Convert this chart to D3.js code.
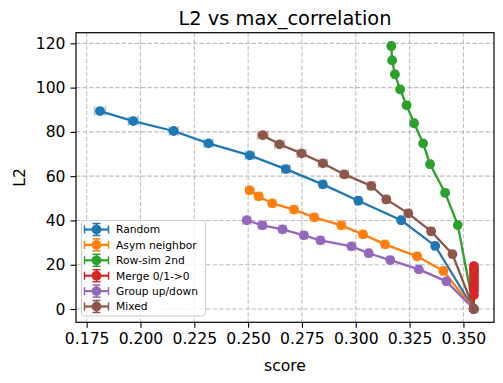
<!DOCTYPE html>
<html><head><meta charset="utf-8">
<script src="https://cdn.jsdelivr.net/npm/d3@7/dist/d3.min.js"></script>
<style>body{margin:0;background:#fff}svg{display:block;font-family:"DejaVu Sans",sans-serif}</style>
</head><body><svg id="c" width="503" height="383"></svg>
<script>
const seriesNames = ["Random","Asym neighbor","Row-sim 2nd","Merge 0/1->0","Group up/down","Mixed"];
const colors = ["#1f77b4","#ff7f0e","#2ca02c","#d62728","#9467bd","#8c564b"];
const randomX = [0.1812,0.1966,0.2154,0.2316,0.2508,0.2675,0.2847,0.3012,0.3211,0.3369,0.3548];
const randomY = [89.4,84.9,80.4,74.8,69.4,63.2,56.3,48.9,40.1,28.5,0];
const randomXerr = [0.0025,0.0022,0.002,0.002,0.002,0.0018,0.0015,0.0012,0.001,0.001,0];
const asymX = [0.2507,0.2549,0.2612,0.2713,0.2807,0.2933,0.3034,0.3136,0.3285,0.3407,0.3548];
const asymY = [53.6,50.9,47.7,44.9,41.4,37.8,33.7,29.2,23.8,17.2,0];
const asymXerr = [0.0018,0.0017,0.0016,0.0016,0.0015,0.0015,0.0014,0.0013,0.0012,0.001,0];
const rowX = [0.3165,0.3169,0.3182,0.3206,0.3236,0.3271,0.3313,0.3345,0.3415,0.3474,0.3548];
const rowY = [118.8,112.3,106.0,99.2,92.0,83.9,74.8,65.4,52.5,37.9,0];
const rowXerr = [0.0008,0.0008,0.0008,0.0008,0.0008,0.0008,0.0008,0.0008,0.0007,0.0006,0];
const mergeX = [0.3549,0.3549,0.3549,0.3549,0.3549,0.3549,0.3549,0.3549,0.3549,0.3549,0.3548];
const mergeY = [19.4,18.1,16.7,15.4,14.0,12.6,11.2,9.9,8.5,6.3,0];
const mergeXerr = [0.0003,0.0003,0.0003,0.0003,0.0003,0.0003,0.0003,0.0003,0.0003,0.0003,0];
const groupX = [0.2494,0.2566,0.2660,0.2759,0.2836,0.2980,0.3060,0.3160,0.3293,0.3421,0.3548];
const groupY = [40.1,37.8,36.0,33.3,31.0,28.3,25.2,22.1,17.9,12.5,0];
const groupXerr = [0.0018,0.0017,0.0016,0.0016,0.0015,0.0015,0.0014,0.0013,0.0012,0.001,0];
const mixedX = [0.2568,0.2646,0.2748,0.2847,0.2947,0.3072,0.3142,0.3244,0.3350,0.3449,0.3548];
const mixedY = [78.5,74.4,70.3,65.8,60.8,55.6,49.5,43.2,35.1,24.8,0];
const mixedXerr = [0.0024,0.0022,0.002,0.002,0.0018,0.0016,0.0015,0.0013,0.0012,0.001,0];
const xTicks = [0.175,0.200,0.225,0.250,0.275,0.300,0.325,0.350];
const yTicks = [0,20,40,60,80,100,120];

const allX = [randomX,asymX,rowX,mergeX,groupX,mixedX];
const allY = [randomY,asymY,rowY,mergeY,groupY,mixedY];
const allXerr = [randomXerr,asymXerr,rowXerr,mergeXerr,groupXerr,mixedXerr];

const L=76,R=494,T=32.7,B=322.3;
const x = d3.scaleLinear().domain([0.17005,0.36421]).range([L,R]);
const y = d3.scaleLinear().domain([-6.0,124.8]).range([B,T]);
const svg = d3.select("#c");

// grid
const g = svg.append("g");
g.selectAll(".gx").data(xTicks).enter().append("line")
 .attr("x1",d=>x(d)).attr("x2",d=>x(d)).attr("y1",T).attr("y2",B)
 .attr("stroke","#b0b0b0").attr("stroke-width",1.1).attr("stroke-dasharray","4.5,2").attr("opacity",0.8);
g.selectAll(".gy").data(yTicks).enter().append("line")
 .attr("y1",d=>y(d)).attr("y2",d=>y(d)).attr("x1",L).attr("x2",R)
 .attr("stroke","#b0b0b0").attr("stroke-width",1.1).attr("stroke-dasharray","4.5,2").attr("opacity",0.8);

// series
const cap = 4.7, rad = 4.9;
const line = d3.line().x(d=>x(d[0])).y(d=>y(d[1]));
allX.forEach((xs,i)=>{
  const pts = xs.map((v,j)=>[v,allY[i][j],allXerr[i][j]]);
  const c = colors[i];
  const sg = svg.append("g");
  const eb = sg.append("g").attr("stroke",c).attr("stroke-width",1.5).attr("opacity",0.45);
  pts.forEach(p=>{
    if(p[2]<=0) return;
    const x0=x(p[0]-p[2]), x1=x(p[0]+p[2]), yy=y(p[1]);
    eb.append("line").attr("x1",x0).attr("x2",x1).attr("y1",yy).attr("y2",yy);
    eb.append("line").attr("x1",x0).attr("x2",x0).attr("y1",yy-cap).attr("y2",yy+cap);
    eb.append("line").attr("x1",x1).attr("x2",x1).attr("y1",yy-cap).attr("y2",yy+cap);
  });
  sg.append("path").attr("d",line(pts)).attr("fill","none").attr("stroke",c).attr("stroke-width",2.3);
  sg.selectAll("circle").data(pts).enter().append("circle")
    .attr("cx",d=>x(d[0])).attr("cy",d=>y(d[1])).attr("r",rad).attr("fill",c);
});

// frame
svg.append("rect").attr("x",L).attr("y",T).attr("width",R-L).attr("height",B-T)
 .attr("fill","none").attr("stroke","#000").attr("stroke-width",1.2);

// axes
const xa = svg.append("g").attr("transform",`translate(0,${B})`)
 .call(d3.axisBottom(x).tickValues(xTicks).tickFormat(d3.format(".3f")).tickSize(5.5).tickPadding(5));
const ya = svg.append("g").attr("transform",`translate(${L},0)`)
 .call(d3.axisLeft(y).tickValues(yTicks).tickFormat(d3.format("d")).tickSize(5.5).tickPadding(5));
[xa,ya].forEach(a=>{
  a.select(".domain").remove();
  a.selectAll("line").attr("stroke","#000").attr("stroke-width",1.1);
  a.selectAll("text").attr("font-size","15.6px").attr("fill","#000").attr("font-family","DejaVu Sans");
});

// labels
svg.append("text").attr("x",(L+R)/2).attr("y",25).attr("text-anchor","middle")
 .attr("font-size","19.4px").text("L2 vs max_correlation");
svg.append("text").attr("x",(L+R)/2).attr("y",370.5).attr("text-anchor","middle")
 .attr("font-size","15.6px").text("score");
svg.append("text").attr("transform",`translate(25,${(T+B)/2}) rotate(-90)`).attr("text-anchor","middle")
 .attr("font-size","15.6px").text("L2");

// legend
const lg = svg.append("g");
lg.append("rect").attr("x",81.5).attr("y",220.5).attr("width",124).attr("height",95.5).attr("rx",3)
 .attr("fill","#fff").attr("fill-opacity",0.8).attr("stroke","#cccccc").attr("stroke-width",1);
seriesNames.forEach((n,i)=>{
  const yy = 229.5 + i*15.4, c = colors[i];
  const h = lg.append("g").attr("stroke",c).attr("stroke-width",1.5);
  h.append("line").attr("x1",84.5).attr("x2",108.5).attr("y1",yy).attr("y2",yy).attr("stroke-width",2.2);
  h.append("line").attr("x1",84.5).attr("x2",84.5).attr("y1",yy-4).attr("y2",yy+4);
  h.append("line").attr("x1",108.5).attr("x2",108.5).attr("y1",yy-4).attr("y2",yy+4);
  h.append("line").attr("x1",96.5).attr("x2",96.5).attr("y1",yy-6).attr("y2",yy+6);
  h.append("line").attr("x1",92.5).attr("x2",100.5).attr("y1",yy-6).attr("y2",yy-6);
  h.append("line").attr("x1",92.5).attr("x2",100.5).attr("y1",yy+6).attr("y2",yy+6);
  lg.append("circle").attr("cx",96.5).attr("cy",yy).attr("r",rad).attr("fill",c);
  lg.append("text").attr("x",116).attr("y",yy+3.8).attr("font-size","10.7px").attr("fill","#000").text(n);
});
</script></body></html>
